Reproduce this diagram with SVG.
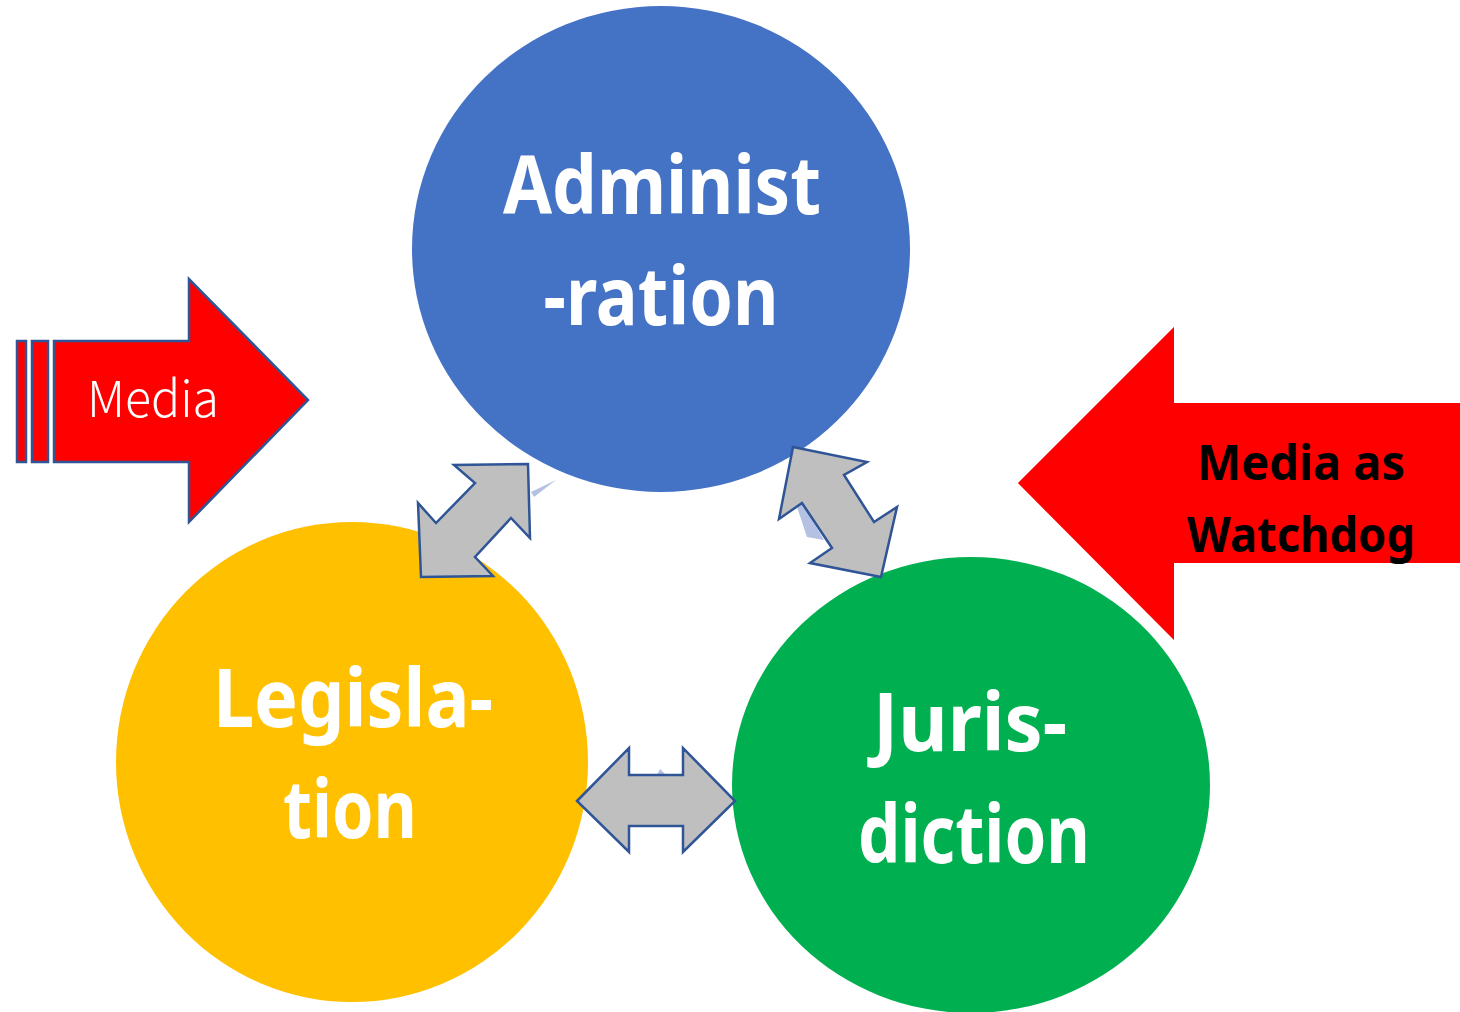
<svg xmlns="http://www.w3.org/2000/svg" width="1460" height="1012" viewBox="0 0 1460 1012">
<style>
.lbl{font-family:"Noto Sans","Liberation Sans",sans-serif;font-weight:bold;font-size:80px;fill:#FFFFFF;text-anchor:middle}
.dbl{fill:#BFBFBF;stroke:#2F5597;stroke-width:2.5;stroke-linejoin:miter}
.shadow{fill:#B4C1E3}
.wd{font-family:"Noto Sans","Liberation Sans",sans-serif;font-weight:bold;font-size:48px;fill:#000000;text-anchor:middle}
</style>
<rect width="1460" height="1012" fill="#FFFFFF"/>
<g id="administration">
<ellipse cx="661" cy="249" rx="249" ry="243" fill="#4472C4"/>
<text class="lbl" x="662" y="214" textLength="318" lengthAdjust="spacingAndGlyphs">Administ</text>
<text class="lbl" x="661" y="325" textLength="235" lengthAdjust="spacingAndGlyphs">-ration</text>
</g>
<g id="legislation">
<ellipse cx="352" cy="762" rx="236" ry="240" fill="#FFC000"/>
<text class="lbl" x="353" y="727" textLength="280" lengthAdjust="spacingAndGlyphs">Legisla-</text>
<text class="lbl" x="350" y="838" textLength="134" lengthAdjust="spacingAndGlyphs">tion</text>
</g>
<g id="jurisdiction">
<ellipse cx="971" cy="785" rx="239" ry="228" fill="#00B050"/>
<text class="lbl" x="970" y="751" textLength="194" lengthAdjust="spacingAndGlyphs">Juris-</text>
<text class="lbl" x="974" y="863" textLength="232" lengthAdjust="spacingAndGlyphs">diction</text>
</g>
<g id="connectors">
<polygon class="shadow" points="531,492 556,480 534,497"/>
<polygon class="shadow" points="797,507 807,537 824,540 802,503"/>
<polygon class="shadow" points="657,775 660,769 666,775"/>
<polygon class="dbl" points="528,464 454,465 475,483 436,523 418,503 421,577 493,576 475,557 511,518 530,538"/>
<polygon class="dbl" points="793,447 867,462 844,475 874,522 897,507 881,577 810,563 832,548 802,503 779,519"/>
<polygon class="dbl" points="577,801 629,748 629,775 683,775 683,748 735,801 683,852 683,826 629,826 629,852"/>
</g>
<g id="media">
<g fill="#FF0000" stroke="#2F5597" stroke-width="2.5">
<rect x="17" y="341" width="9" height="121"/>
<rect x="32" y="341" width="16" height="121"/>
<polygon points="54,341 189,341 189,279 308,400 189,522 189,462 54,462"/>
</g>
<text x="153" y="417" text-anchor="middle" font-family="'Noto Sans CJK JP','Noto Sans','Liberation Sans',sans-serif" font-weight="300" font-size="50" fill="#FFFFFF" textLength="132" lengthAdjust="spacingAndGlyphs">Media</text>
</g>
<g id="watchdog">
<polygon points="1015,483 1176,322 1176,401 1462,401 1462,565 1176,565 1176,645" fill="#FF0000" stroke="#FFFFFF" stroke-width="4"/>
<text class="wd" x="1301" y="480" textLength="208" lengthAdjust="spacingAndGlyphs">Media as</text>
<text class="wd" x="1301" y="552" textLength="228" lengthAdjust="spacingAndGlyphs">Watchdog</text>
</g>
</svg>
